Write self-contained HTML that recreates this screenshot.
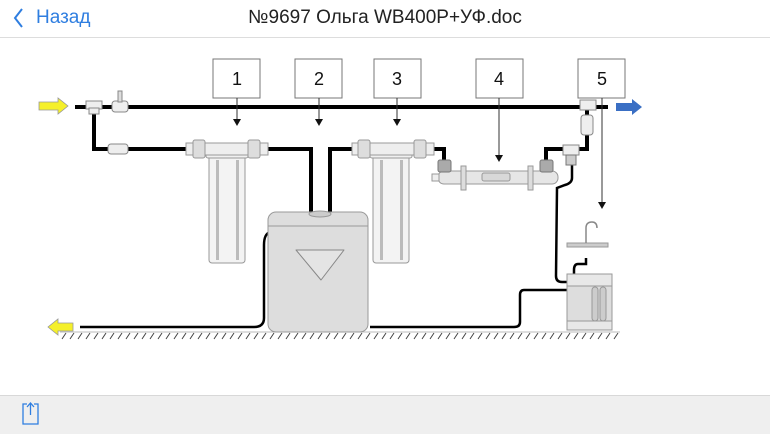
<!DOCTYPE html>
<html><head><meta charset="utf-8"><style>
html,body{margin:0;padding:0;width:770px;height:433px;overflow:hidden;background:#fff;font-family:"Liberation Sans",sans-serif}
.hdr{position:absolute;left:0;top:0;width:770px;height:37px;background:#fff;border-bottom:1px solid #ddd}
.back{position:absolute;left:36px;top:7px;font-size:19px;color:#2f7ee0}
.title{position:absolute;left:0;width:770px;top:7px;text-align:center;font-size:19px;color:#222}
.bot{position:absolute;left:0;top:395px;width:770px;height:38px;background:#efefef;border-top:1px solid #d8d8d8}
svg{position:absolute;left:0;top:0}
</style></head><body>
<div class="hdr"><div class="back">Назад</div><div class="title">№9697 Ольга WB400P+УФ.doc</div></div>
<svg width="770" height="433" viewBox="0 0 770 433">
<polyline points="22,9 15,18 22,27" fill="none" stroke="#2f7ee0" stroke-width="2"/>
<!-- hatch ground -->
<g stroke="#555" stroke-width="1">
<line x1="60" y1="332" x2="620" y2="332" stroke="#bbb"/>
</g>
<g stroke="#444" stroke-width="1">
<path d="M62,339 l4,-6 M70,339 l4,-6 M78,339 l4,-6 M86,339 l4,-6 M94,339 l4,-6 M102,339 l4,-6 M110,339 l4,-6 M118,339 l4,-6 M126,339 l4,-6 M134,339 l4,-6 M142,339 l4,-6 M150,339 l4,-6 M158,339 l4,-6 M166,339 l4,-6 M174,339 l4,-6 M182,339 l4,-6 M190,339 l4,-6 M198,339 l4,-6 M206,339 l4,-6 M214,339 l4,-6 M222,339 l4,-6 M230,339 l4,-6 M238,339 l4,-6 M246,339 l4,-6 M254,339 l4,-6 M262,339 l4,-6 M270,339 l4,-6 M278,339 l4,-6 M286,339 l4,-6 M294,339 l4,-6 M302,339 l4,-6 M310,339 l4,-6 M318,339 l4,-6 M326,339 l4,-6 M334,339 l4,-6 M342,339 l4,-6 M350,339 l4,-6 M358,339 l4,-6 M366,339 l4,-6 M374,339 l4,-6 M382,339 l4,-6 M390,339 l4,-6 M398,339 l4,-6 M406,339 l4,-6 M414,339 l4,-6 M422,339 l4,-6 M430,339 l4,-6 M438,339 l4,-6 M446,339 l4,-6 M454,339 l4,-6 M462,339 l4,-6 M470,339 l4,-6 M478,339 l4,-6 M486,339 l4,-6 M494,339 l4,-6 M502,339 l4,-6 M510,339 l4,-6 M518,339 l4,-6 M526,339 l4,-6 M534,339 l4,-6 M542,339 l4,-6 M550,339 l4,-6 M558,339 l4,-6 M566,339 l4,-6 M574,339 l4,-6 M582,339 l4,-6 M590,339 l4,-6 M598,339 l4,-6 M606,339 l4,-6 M614,339 l4,-6"/>
</g>
<!-- pipes -->
<g fill="none" stroke="#000" stroke-width="4">
<line x1="75" y1="107" x2="608" y2="107"/>
<polyline points="94,107 94,149 190,149"/>
<polyline points="265,149 311,149 311,214"/>
<polyline points="330,214 330,149 358,149"/>
<polyline points="432,149 444,149 444,160"/>
<polyline points="546,160 546,149 570,149"/>
<polyline points="587,107 587,149 572,149"/>
</g>
<g fill="none" stroke="#000" stroke-width="2.5">
<path d="M572,164 L572,178 Q572,183 565,185 L557,188 L556,276 Q556,282 562,282 L568,282"/>
<path d="M270,232 Q264,234 264,245 L264,318 Q264,327 254,327 L80,327"/>
<path d="M568,290 L524,290 Q520,290 520,295 L520,322 Q520,327 514,327 L370,327"/>
<path d="M586,258 L586,264 L578,264 Q574,264 574,270 L574,280"/>
</g>
<!-- valves / tees -->
<rect x="86" y="101" width="16" height="8" fill="#eee" stroke="#888"/>
<rect x="89" y="108" width="10" height="6" fill="#eee" stroke="#888"/>
<rect x="112" y="101" width="16" height="11" rx="3" fill="#eee" stroke="#888"/>
<rect x="118" y="91" width="4" height="11" fill="#ddd" stroke="#888"/>
<rect x="108" y="144" width="20" height="10" rx="3" fill="#eee" stroke="#888"/>
<rect x="580" y="100" width="16" height="10" fill="#eee" stroke="#888"/>
<rect x="581" y="115" width="12" height="20" rx="3" fill="#eee" stroke="#888"/>
<rect x="563" y="145" width="16" height="10" fill="#eee" stroke="#888"/>
<rect x="566" y="155" width="10" height="10" fill="#ccc" stroke="#777"/>
<!-- filter 1 -->
<g stroke="#999" stroke-width="1">
<rect x="209" y="150" width="36" height="113" rx="3" fill="#f3f3f3"/>
<rect x="216" y="160" width="3" height="100" fill="#bbb" stroke="none"/>
<rect x="236" y="160" width="3" height="100" fill="#bbb" stroke="none"/>
<rect x="206" y="146" width="42" height="12" rx="2" fill="#f0f0f0"/>
<rect x="186" y="143" width="82" height="12" fill="#eee"/>
<rect x="193" y="140" width="12" height="18" rx="2" fill="#ddd"/>
<rect x="248" y="140" width="12" height="18" rx="2" fill="#ddd"/>
</g>
<!-- filter 3 -->
<g stroke="#999" stroke-width="1">
<rect x="373" y="150" width="36" height="113" rx="3" fill="#f3f3f3"/>
<rect x="380" y="160" width="3" height="100" fill="#bbb" stroke="none"/>
<rect x="400" y="160" width="3" height="100" fill="#bbb" stroke="none"/>
<rect x="370" y="146" width="42" height="12" rx="2" fill="#f0f0f0"/>
<rect x="352" y="143" width="82" height="12" fill="#eee"/>
<rect x="358" y="140" width="12" height="18" rx="2" fill="#ddd"/>
<rect x="414" y="140" width="12" height="18" rx="2" fill="#ddd"/>
</g>
<!-- softener -->
<rect x="268" y="212" width="100" height="120" rx="8" fill="#ddd" stroke="#999"/>
<line x1="268" y1="226" x2="368" y2="226" stroke="#999"/>
<ellipse cx="320" cy="214" rx="11" ry="3" fill="#ccc" stroke="#999"/>
<path d="M296,250 L344,250 L321,280 Z" fill="#e4e4e4" stroke="#888" stroke-linejoin="round"/>
<!-- UV -->
<rect x="438" y="171" width="120" height="13" rx="6" fill="#e6e6e6" stroke="#999"/>
<rect x="432" y="174" width="7" height="7" fill="#eee" stroke="#999"/>
<rect x="482" y="173" width="28" height="8" rx="2" fill="#d8d8d8" stroke="#999"/>
<rect x="461" y="166" width="5" height="24" fill="#ddd" stroke="#999"/>
<rect x="528" y="166" width="5" height="24" fill="#ddd" stroke="#999"/>
<rect x="438" y="160" width="13" height="12" rx="2" fill="#aaa" stroke="#777"/>
<rect x="540" y="160" width="13" height="12" rx="2" fill="#aaa" stroke="#777"/>
<!-- sink + RO -->
<rect x="567" y="243" width="41" height="4" fill="#ccc" stroke="#999"/>
<path d="M586,243 L586,228 Q586,222 592,222 Q597,222 597,228" fill="none" stroke="#888" stroke-width="1.5"/>
<rect x="567" y="274" width="45" height="56" fill="#ddd" stroke="#999"/>
<rect x="567" y="274" width="45" height="12" fill="#e8e8e8" stroke="#999"/>
<rect x="592" y="287" width="6" height="34" rx="3" fill="#ccc" stroke="#999"/>
<rect x="600" y="287" width="6" height="34" rx="3" fill="#ccc" stroke="#999"/>
<rect x="567" y="321" width="45" height="9" fill="#e8e8e8" stroke="#999"/>
<!-- callouts -->
<g fill="#fff" stroke="#777">
<rect x="213" y="59" width="47" height="39"/>
<rect x="295" y="59" width="47" height="39"/>
<rect x="374" y="59" width="47" height="39"/>
<rect x="476" y="59" width="47" height="39"/>
<rect x="578" y="59" width="47" height="39"/>
</g>
<g font-family="Liberation Sans,sans-serif" font-size="18" text-anchor="middle" fill="#111">
<text x="237" y="85">1</text><text x="319" y="85">2</text><text x="397" y="85">3</text><text x="499" y="85">4</text><text x="602" y="85">5</text>
</g>
<g stroke="#333" stroke-width="1">
<line x1="237" y1="98" x2="237" y2="120"/><line x1="319" y1="98" x2="319" y2="120"/><line x1="397" y1="98" x2="397" y2="120"/><line x1="499" y1="98" x2="499" y2="156"/><line x1="602" y1="98" x2="602" y2="203"/>
</g>
<g fill="#111">
<path d="M233,119 h8 l-4,7z"/><path d="M315,119 h8 l-4,7z"/><path d="M393,119 h8 l-4,7z"/><path d="M495,155 h8 l-4,7z"/><path d="M598,202 h8 l-4,7z"/>
</g>
<!-- arrows -->
<path d="M39,102 L58,102 L58,98 L68,106 L58,114 L58,110 L39,110 Z" fill="#f5f02a" stroke="#999" stroke-width="0.8"/>
<path d="M73,323 L58,323 L58,319 L48,327 L58,335 L58,331 L73,331 Z" fill="#f5f02a" stroke="#999" stroke-width="0.8"/>
<path d="M616,103 L632,103 L632,99 L642,107 L632,115 L632,111 L616,111 Z" fill="#3a6fc4"/>
</svg>
<div class="bot"></div>
<svg width="770" height="433" viewBox="0 0 770 433" style="pointer-events:none">
<path d="M27,404 L23,404 L23,424 L38,424 L38,404 L34,404" fill="none" stroke="#2f7ee0" stroke-width="1.3"/>
<line x1="30.5" y1="404" x2="30.5" y2="415" stroke="#2f7ee0" stroke-width="1.3"/>
<polyline points="27,407 30.5,403 34,407" fill="none" stroke="#2f7ee0" stroke-width="1.3"/>
</svg>
</body></html>
